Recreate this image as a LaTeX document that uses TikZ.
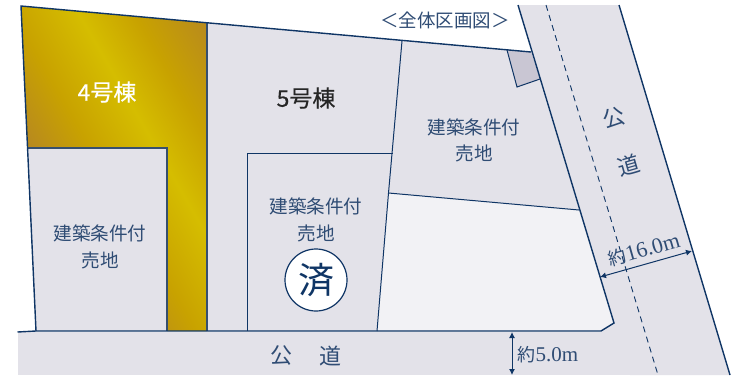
\documentclass[tikz,border=0pt]{standalone}
\usepackage{fontspec}
\setmainfont{Liberation Serif}
\newfontfamily\cjk{Noto Sans CJK JP}
\newfontfamily\cjkm[FakeBold=0.4]{Noto Sans CJK JP}
\usetikzlibrary{arrows.meta}
\definecolor{lotfill}{HTML}{E3E2E9}
\definecolor{lightlot}{HTML}{F2F2F5}
\definecolor{navy}{HTML}{0F3565}
\definecolor{txt}{HTML}{2F4C74}
\definecolor{goldB}{HTML}{B88A1E}
\definecolor{goldQ}{HTML}{C8A200}
\definecolor{goldM}{HTML}{D5BD00}
\definecolor{stub}{HTML}{C9C6D3}
\pgfdeclarehorizontalshading{goldband}{840bp}{color(0bp)=(goldB);color(8bp)=(goldB);color(58bp)=(goldQ);color(115bp)=(goldM);color(163bp)=(goldQ);color(222bp)=(goldB);color(230bp)=(goldB)}
\tikzset{
  heavy/.style={draw=navy,line width=1.4pt},
  thin line/.style={draw=navy,line width=1pt},
  soft line/.style={draw=navy!65!gray,line width=1.1pt},
  lot label/.style={font=\cjk\fontsize{18.6}{20}\selectfont,text=txt,inner sep=0pt},
  road label/.style={font=\cjk\fontsize{22}{24}\selectfont,text=txt,inner sep=0pt},
  dim label/.style={font=\fontsize{21}{22}\selectfont,text=txt,inner sep=0pt},
  dim arrow/.style={draw=navy,line width=1pt,{Latex[length=6pt,width=6pt]}-{Latex[length=6pt,width=6pt]}}
}
\begin{document}
\begin{tikzpicture}[x=1pt,y=-1pt]
\useasboundingbox (0,0) rectangle (736,375);
% lots
\fill[lotfill] (21,6) -- (531,52) -- (614,323) -- (601,331) -- (36,331) -- cycle;
% roads
\fill[lotfill] (17.5,332) rectangle (700,375);
\fill[lotfill] (518,5) -- (619,5) -- (730,375) -- (630,375) -- (601,331) -- (614,323) -- cycle;
% light lot
\fill[lightlot] (389,193) -- (579,210) -- (614,323) -- (601,331) -- (377,331) -- cycle;
% gold lot
\begin{scope}
  \clip (21,6) -- (207,23) -- (207,331) -- (167,331) -- (167,148) -- (27.5,148) -- cycle;
  \node[rotate=30,inner sep=0pt] (goldfill) at (140,120) {\pgfuseshading{goldband}};
\end{scope}
% corner stub
\fill[stub] (507,50) -- (531,52) -- (540,79) -- (517,87) -- cycle;
\draw[thin line] (507,50) -- (517,87) -- (540,79);
% inner lines
\draw[soft line] (28,148) -- (167,148) -- (167,331);
\draw[soft line] (207,23) -- (207,331);
\draw[thin line] (247,331) -- (247,153) -- (393,153);
\draw[thin line] (402,41) -- (388.5,193) -- (377,331);
\draw[thin line] (388.5,193) -- (579,210);
% outer lines
\draw[heavy] (531,52) -- (21,6) -- (36,331);
\draw[heavy] (17.5,332) -- (36,331) -- (601,331) -- (614,323) -- (518,5);
\draw[heavy] (619,5) -- (730,375);
\draw[draw=navy,line width=0.9pt,dash pattern=on 6pt off 4.5pt] (546,5) -- (658,375);
% circle
\node[circle,draw=navy,line width=1.2pt,fill=white,minimum size=62pt,inner sep=0pt,font=\cjk\fontsize{36}{38}\selectfont,text=navy] (sumi) at (316,280) {済};
% labels
\node[font=\cjkm\fontsize{23}{24}\selectfont,text=white,inner sep=0pt] (lot4) at (107,92) {4号棟};
\node[font=\cjkm\fontsize{23}{24}\selectfont,text=black!85,inner sep=0pt] (lot5) at (306,98) {5号棟};
\node[lot label] (a1) at (100,233) {建築条件付};
\node[lot label] (a2) at (100,260) {売地};
\node[lot label] (b1) at (316,206) {建築条件付};
\node[lot label] (b2) at (316,233) {売地};
\node[lot label] (c1) at (474,127) {建築条件付};
\node[lot label] (c2) at (474,153) {売地};
\node[font=\cjk\fontsize{18.5}{20}\selectfont,text=txt,inner sep=0pt] (hdr) at (445,20) {＜全体区画図＞};
\node[road label] (r1) at (281,356) {公};
\node[road label] (r2) at (330,356) {道};
\node[road label,rotate=16] (r3) at (614,118) {公};
\node[road label,rotate=16] (r4) at (629,165) {道};
\node[dim label,rotate=16,font=\fontsize{22}{22}\selectfont] (d16) at (644,250) {{\cjk\fontsize{18}{20}\selectfont 約}16.0m};
\node[dim label] (d5) at (548,355) {{\cjk\fontsize{18}{20}\selectfont 約}5.0m};
% dimensions
\coordinate (pa) at (600,277);
\coordinate (pb) at (692,251);
\coordinate (qa) at (512,332);
\coordinate (qb) at (512,375);
\draw[dim arrow] (pa) -- (pb);
\draw[dim arrow] (qa) -- (qb);
\end{tikzpicture}
\end{document}
